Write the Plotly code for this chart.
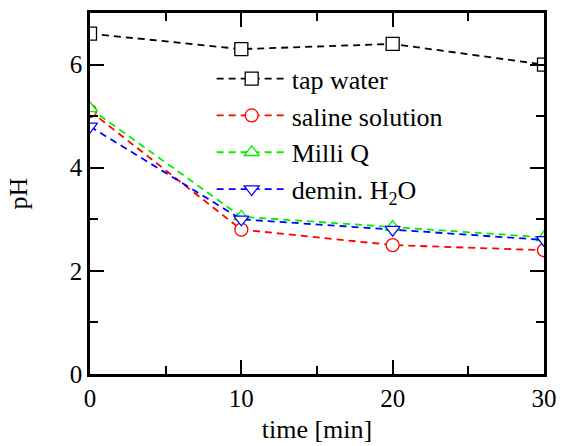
import plotly.graph_objects as go

time_min = [0, 10, 20, 30]
tap_water = [6.6, 6.3, 6.4, 6.0]
saline_solution = [5.1, 2.8, 2.5, 2.4]
milli_q = [5.15, 3.05, 2.85, 2.65]
demin_h2o = [4.8, 3.0, 2.8, 2.6]

series = [
    ("tap water", tap_water, "#000000", "square"),
    ("saline solution", saline_solution, "#FF0000", "circle"),
    ("Milli Q", milli_q, "#00EE00", "triangle-up"),
    ("demin. H<sub>2</sub>O", demin_h2o, "#0000FF", "triangle-down"),
]

FONT = "Liberation Serif, Times New Roman, serif"

fig = go.Figure()
for name, vals, col, sym in series:
    fig.add_trace(go.Scatter(
        x=time_min, y=vals, name=name, mode="lines+markers",
        line=dict(color=col, width=1.8, dash="7px,5px"),
        marker=dict(symbol=sym, size=13, color="white",
                    line=dict(color=col, width=1.3)),
        cliponaxis=True,
    ))

axis_common = dict(
    showline=True, linecolor="black", linewidth=2.5, mirror="ticks",
    ticks="inside", ticklen=14, tickwidth=2, tickcolor="black",
    showgrid=False, zeroline=False,
    tickfont=dict(family=FONT, size=25, color="black"),
)

fig.update_xaxes(
    range=[0, 30], dtick=10, tick0=0,
    minor=dict(dtick=5, ticks="inside", ticklen=8, tickwidth=2, tickcolor="black"),
    title=dict(text="time [min]", font=dict(family=FONT, size=26, color="black"), standoff=10),
    **axis_common,
)
fig.update_yaxes(
    range=[0, 7], dtick=2, tick0=0,
    minor=dict(dtick=1, ticks="inside", ticklen=8, tickwidth=2, tickcolor="black"),
    title=dict(text="pH", font=dict(family=FONT, size=26, color="black"), standoff=35),
    **axis_common,
)

fig.update_layout(
    width=564, height=446,
    margin=dict(l=90, r=20, t=13, b=72, autoexpand=False),
    paper_bgcolor="white", plot_bgcolor="white",
    font=dict(family=FONT, size=26, color="black"),
    legend=dict(
        x=0.268, y=0.883, xanchor="left", yanchor="top",
        bgcolor="rgba(0,0,0,0)", borderwidth=0,
        font=dict(family=FONT, size=26, color="black"),
        itemwidth=70, tracegroupgap=0,
    ),
    showlegend=True,
)

fig.write_html("out.html", config={"displayModeBar": False},
               post_script="document.body.style.margin='0';")
